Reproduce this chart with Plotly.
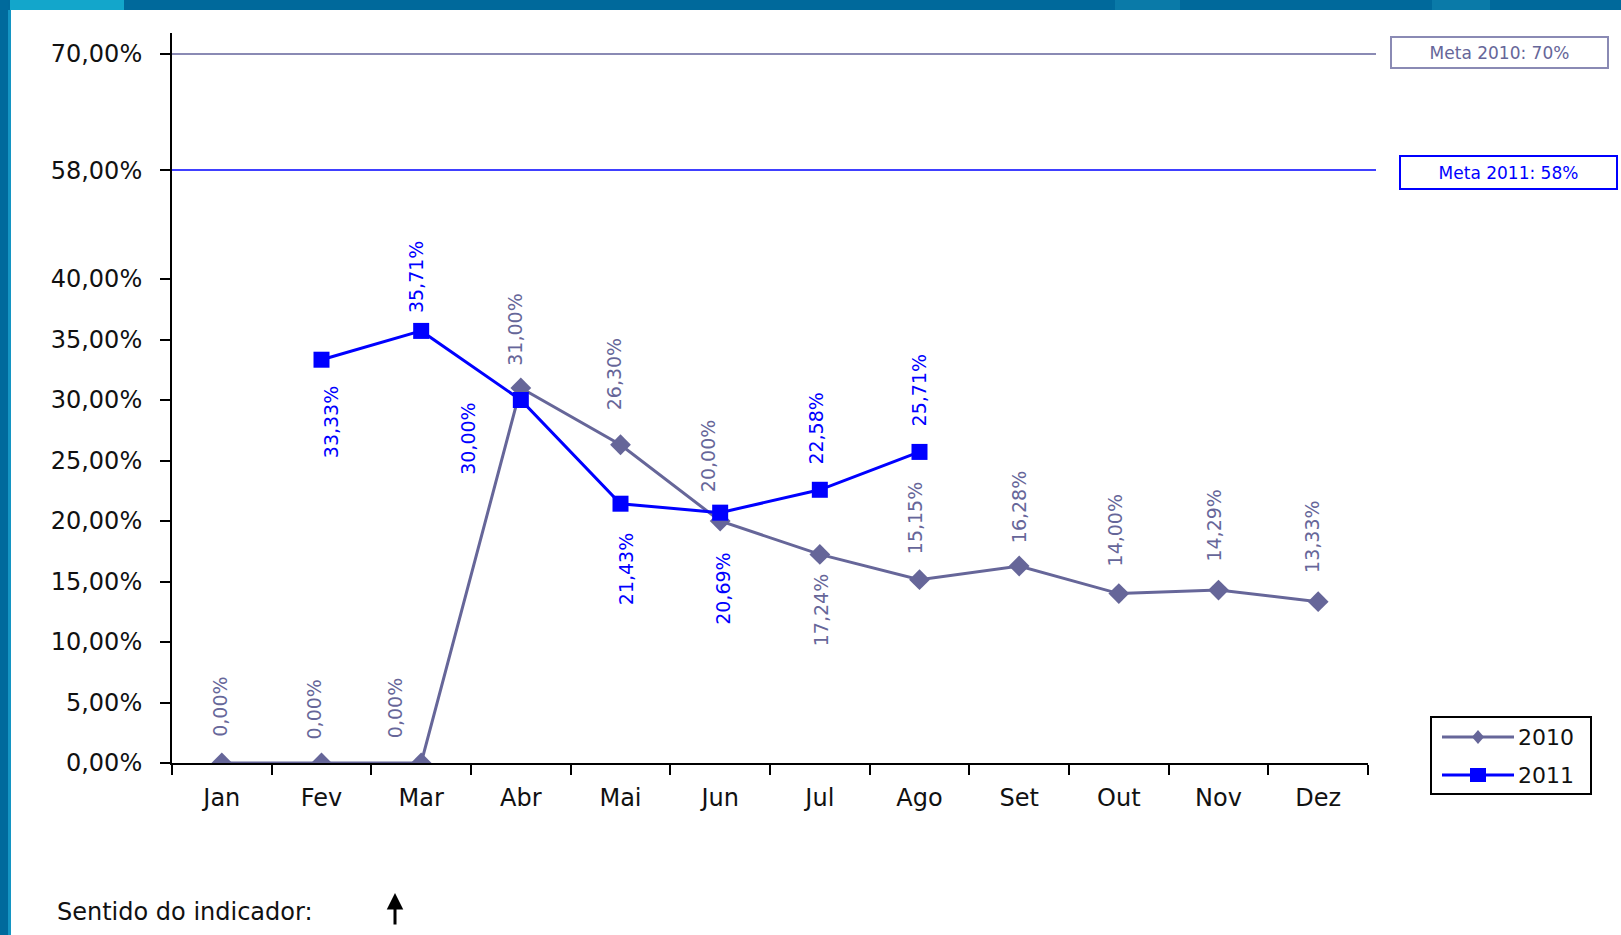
import plotly.graph_objects as go

months = ["Jan", "Fev", "Mar", "Abr", "Mai", "Jun", "Jul", "Ago", "Set", "Out", "Nov", "Dez"]
vals_2010 = [0.00, 0.00, 0.00, 31.00, 26.30, 20.00, 17.24, 15.15, 16.28, 14.00, 14.29, 13.33]
months_2011 = ["Fev", "Mar", "Abr", "Mai", "Jun", "Jul", "Ago"]
vals_2011 = [33.33, 35.71, 30.00, 21.43, 20.69, 22.58, 25.71]
meta_2010 = 70.0
meta_2011 = 58.0
tick_values = [0, 5, 10, 15, 20, 25, 30, 35, 40, 58, 70]
series_names = ["2010", "2011"]

# label placement (pixels): dx, dy (positive dy = above point, negative = below)
lab_2010_dx = [-2, -8, -26, -6, -7, -12, 2, -5, 0, -4, -4, -6]
lab_2010_dy = [25, 22, 24, 21, 33, 28, -19, 24, 22, 26, 27, 28]
lab_2011_dx = [9, -5, -53, 5, 2, -4, -1]
lab_2011_dy = [-26, 17, -2, -29, -39, 24, 24]

C2010 = "#666699"
C2011 = "#0000FF"
META2010 = "#8a8ab4"


def ypos(v):
    """Broken value axis: linear 0-40, compressed above 40."""
    if v <= 40:
        return v
    if v <= 58:
        return 40 + (v - 40) * 9.0 / 18.0
    return 49.0 + (v - 58) * 9.6 / 12.0


def fmt(v):
    return f"{v:.2f}".replace(".", ",") + "%"


W, H = 1621, 935
L, R, T, B = 172, 1368, 33, 763
pw, ph = R - L, B - T


def px(x):
    return (x - L) / pw


def py(y):
    return (B - y) / ph


fig = go.Figure()
fig.add_trace(go.Scatter(
    x=months, y=[ypos(v) for v in vals_2010], name=series_names[0],
    mode="lines+markers",
    line=dict(color=C2010, width=3),
    marker=dict(symbol="diamond", size=16, color=C2010),
    hovertext=[fmt(v) for v in vals_2010], hoverinfo="text", showlegend=False,
))
fig.add_trace(go.Scatter(
    x=months_2011, y=[ypos(v) for v in vals_2011], name=series_names[1],
    mode="lines+markers",
    line=dict(color=C2011, width=3),
    marker=dict(symbol="square", size=16, color=C2011),
    hovertext=[fmt(v) for v in vals_2011], hoverinfo="text", showlegend=False,
))

ann = []
lab_font = "DejaVu Sans"
for m, v, dx, dy in zip(months, vals_2010, lab_2010_dx, lab_2010_dy):
    ann.append(dict(x=m, y=ypos(v), xref="x", yref="y", text=fmt(v), showarrow=False,
                    textangle=-90, xshift=dx, yshift=dy,
                    yanchor="bottom" if dy > 0 else "top",
                    font=dict(family=lab_font, size=19, color=C2010), borderpad=0))
for m, v, dx, dy in zip(months_2011, vals_2011, lab_2011_dx, lab_2011_dy):
    ann.append(dict(x=m, y=ypos(v), xref="x", yref="y", text=fmt(v), showarrow=False,
                    textangle=-90, xshift=dx, yshift=dy,
                    yanchor="bottom" if dy > 0 else "top",
                    font=dict(family=lab_font, size=19, color=C2011), borderpad=0))

# meta boxes
ann.append(dict(x=px(1390), y=py(36), xref="paper", yref="paper", xanchor="left", yanchor="top",
                text="Meta 2010: 70%", showarrow=False, width=213, height=27, borderpad=1,
                bordercolor=META2010, borderwidth=2,
                font=dict(family="DejaVu Sans", size=17, color=C2010)))
ann.append(dict(x=px(1399), y=py(155), xref="paper", yref="paper", xanchor="left", yanchor="top",
                text="Meta 2011: 58%", showarrow=False, width=213, height=29, borderpad=1,
                bordercolor=C2011, borderwidth=2,
                font=dict(family="DejaVu Sans", size=17, color=C2011)))
# footer
ann.append(dict(x=px(55), y=py(912), xref="paper", yref="paper", xanchor="left", yanchor="middle",
                text="Sentido do indicador:", showarrow=False,
                font=dict(family="DejaVu Sans", size=24, color="#111111")))
ann.append(dict(x=px(395), y=py(893), xref="paper", yref="paper", text="", showarrow=True,
                ax=0, ay=33, arrowhead=2, arrowsize=1.1, arrowwidth=3, arrowcolor="#000000"))

# legend (drawn manually to match the long sample lines)
leg_rows = [(737, C2010, "diamond"), (775, C2011, "square")]
for (ly, col, sym), name in zip(leg_rows, series_names):
    ann.append(dict(x=px(1516), y=py(ly), xref="paper", yref="paper", xanchor="left", yanchor="middle",
                    text=name, showarrow=False,
                    font=dict(family="DejaVu Sans", size=22, color="#111111")))

shapes = [
    # frame bars
    dict(type="rect", xref="paper", yref="paper", x0=px(0), x1=px(W), y0=py(10), y1=py(0),
         fillcolor="#00699b", line=dict(width=0), layer="below"),
    dict(type="rect", xref="paper", yref="paper", x0=px(10), x1=px(124), y0=py(10), y1=py(0),
         fillcolor="#13a6cb", line=dict(width=0), layer="below"),
    dict(type="rect", xref="paper", yref="paper", x0=px(1115), x1=px(1180), y0=py(10), y1=py(0),
         fillcolor="#0a7aa8", line=dict(width=0), layer="below"),
    dict(type="rect", xref="paper", yref="paper", x0=px(1432), x1=px(1490), y0=py(10), y1=py(0),
         fillcolor="#0a7aa8", line=dict(width=0), layer="below"),
    dict(type="rect", xref="paper", yref="paper", x0=px(0), x1=px(8), y0=py(H), y1=py(0),
         fillcolor="#006a9c", line=dict(width=0), layer="below"),
    dict(type="rect", xref="paper", yref="paper", x0=px(8), x1=px(11), y0=py(H), y1=py(10),
         fillcolor="#1495c3", line=dict(width=0), layer="below"),
    # meta lines
    dict(type="line", xref="paper", yref="y", x0=0, x1=px(1376), y0=ypos(meta_2010), y1=ypos(meta_2010),
         line=dict(color=META2010, width=2)),
    dict(type="line", xref="paper", yref="y", x0=0, x1=px(1376), y0=ypos(meta_2011), y1=ypos(meta_2011),
         line=dict(color=C2011, width=1.5)),
    # legend box
    dict(type="rect", xref="paper", yref="paper", x0=px(1431), x1=px(1591), y0=py(794), y1=py(717),
         line=dict(color="#000000", width=2), fillcolor="white"),
]
for ly, col, sym in leg_rows:
    shapes.append(dict(type="line", xref="paper", yref="paper", x0=px(1442), x1=px(1514),
                       y0=py(ly), y1=py(ly), line=dict(color=col, width=3)))
    cx = 1478
    if sym == "diamond":
        shapes.append(dict(type="path", xref="paper", yref="paper",
                           path=f"M {px(cx)} {py(ly - 7)} L {px(cx + 6)} {py(ly)} L {px(cx)} {py(ly + 7)} L {px(cx - 6)} {py(ly)} Z",
                           fillcolor=col, line=dict(width=0)))
    else:
        shapes.append(dict(type="rect", xref="paper", yref="paper",
                           x0=px(cx - 8), x1=px(cx + 8), y0=py(ly + 7), y1=py(ly - 7),
                           fillcolor=col, line=dict(width=0)))

fig.update_layout(
    width=W, height=H,
    margin=dict(l=L, r=W - R, t=T, b=H - B),
    paper_bgcolor="white", plot_bgcolor="white",
    font=dict(family="DejaVu Sans", color="#111111"),
    showlegend=False,
    annotations=ann,
    shapes=shapes,
)
fig.update_xaxes(
    type="category", categoryorder="array", categoryarray=months,
    range=[-0.5, 11.5], tickson="boundaries", ticks="outside", ticklen=10, tickwidth=2,
    tickcolor="#000000", showline=True, linecolor="#000000", linewidth=2,
    showgrid=False, zeroline=False, ticklabelstandoff=12,
    tickfont=dict(family="DejaVu Sans", size=24, color="#111111"),
)
fig.update_yaxes(
    range=[0, (B - T) / 12.1], tickmode="array",
    tickvals=[ypos(v) for v in tick_values],
    ticktext=[fmt(v) for v in tick_values],
    ticks="outside", ticklen=10, tickwidth=2, tickcolor="#000000",
    showline=True, linecolor="#000000", linewidth=2,
    showgrid=False, zeroline=False, ticklabelstandoff=13,
    tickfont=dict(family="DejaVu Sans", size=24, color="#111111"),
)

fig.write_html(
    "out.html",
    config={"displayModeBar": False},
    post_script="document.body.style.margin='0';document.body.style.overflow='hidden';",
)
